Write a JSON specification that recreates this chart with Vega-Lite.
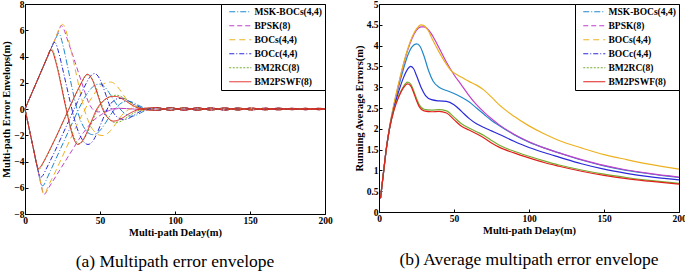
{
"$schema": "https://vega.github.io/schema/vega-lite/v6.json",
"background": "white",
"padding": {"left": 1, "top": -2, "right": 4, "bottom": 0},
"spacing": 20,
"resolve": {"scale": {"color": "independent", "strokeDash": "independent", "strokeWidth": "independent"}, "legend": {"color": "independent", "strokeDash": "independent", "strokeWidth": "independent"}},
"config": {
  "font": "Liberation Serif",
  "view": {"stroke": "black", "strokeWidth": 1},
  "axis": {"grid": false, "labelFont": "Liberation Serif", "labelFontWeight": "bold", "labelFontSize": 9.5, "labelColor": "black", "titleFont": "Liberation Serif", "titleFontWeight": "bold", "titleFontSize": 10.5, "titleColor": "black", "domainColor": "black", "tickColor": "black", "tickSize": -3, "labelPadding": 4, "labelOverlap": false, "labelFlush": false},
  "axisY": {"titlePadding": 2},
  "axisX": {"titlePadding": 3},
  "legend": {"orient": "top-right", "offset": 0, "strokeColor": "black", "fillColor": "white", "padding": 3, "cornerRadius": 0, "labelFont": "Liberation Serif", "labelFontWeight": "bold", "labelFontSize": 9.5, "labelColor": "black", "symbolType": "M-1,0H5.3", "symbolSize": 49, "symbolOffset": 4, "labelOffset": 17, "rowPadding": 3},
  "title": {"font": "Liberation Serif", "fontSize": 17.5, "fontWeight": "normal", "color": "black"}
},
"datasets": {
"env": [
{"s":"MSK","b":"u","d":0,"v":0},{"s":"MSK","b":"u","d":5,"v":1.33},{"s":"MSK","b":"u","d":10,"v":2.65},{"s":"MSK","b":"u","d":15,"v":3.98},{"s":"MSK","b":"u","d":19,"v":5.03},{"s":"MSK","b":"u","d":21,"v":5.5},{"s":"MSK","b":"u","d":22.3,"v":5.75},{"s":"MSK","b":"u","d":23.5,"v":5.6},{"s":"MSK","b":"u","d":25,"v":5.0},{"s":"MSK","b":"u","d":27,"v":4.0},{"s":"MSK","b":"u","d":29,"v":2.9},{"s":"MSK","b":"u","d":31,"v":1.8},{"s":"MSK","b":"u","d":33,"v":0.75},{"s":"MSK","b":"u","d":35,"v":-0.15},{"s":"MSK","b":"u","d":37,"v":-0.85},{"s":"MSK","b":"u","d":39,"v":-1.35},{"s":"MSK","b":"u","d":42,"v":-1.8},{"s":"MSK","b":"u","d":45,"v":-1.95},{"s":"MSK","b":"u","d":48,"v":-1.85},{"s":"MSK","b":"u","d":51,"v":-1.5},{"s":"MSK","b":"u","d":54,"v":-1.0},{"s":"MSK","b":"u","d":57,"v":-0.45},{"s":"MSK","b":"u","d":60,"v":0.0},{"s":"MSK","b":"u","d":63,"v":0.35},{"s":"MSK","b":"u","d":66,"v":0.55},{"s":"MSK","b":"u","d":69,"v":0.6},{"s":"MSK","b":"u","d":72,"v":0.5},{"s":"MSK","b":"u","d":75,"v":0.32},{"s":"MSK","b":"u","d":78,"v":0.15},{"s":"MSK","b":"u","d":82,"v":0.0},
{"s":"MSK","b":"u","d":88,"v":-0.1},{"s":"MSK","b":"u","d":97,"v":0.1},{"s":"MSK","b":"u","d":106,"v":-0.09},{"s":"MSK","b":"u","d":115,"v":0.09},{"s":"MSK","b":"u","d":124,"v":-0.08},{"s":"MSK","b":"u","d":133,"v":0.08},{"s":"MSK","b":"u","d":142,"v":-0.07},{"s":"MSK","b":"u","d":151,"v":0.07},{"s":"MSK","b":"u","d":160,"v":-0.06},{"s":"MSK","b":"u","d":169,"v":0.06},{"s":"MSK","b":"u","d":178,"v":-0.05},{"s":"MSK","b":"u","d":187,"v":0.05},{"s":"MSK","b":"u","d":196,"v":-0.05},{"s":"MSK","b":"u","d":200,"v":-0.01},
{"s":"MSK","b":"l","d":0,"v":0},{"s":"MSK","b":"l","d":3,"v":-1.62},{"s":"MSK","b":"l","d":6,"v":-3.24},{"s":"MSK","b":"l","d":9,"v":-4.86},{"s":"MSK","b":"l","d":10.5,"v":-5.6},{"s":"MSK","b":"l","d":11.5,"v":-5.85},{"s":"MSK","b":"l","d":12.5,"v":-5.8},{"s":"MSK","b":"l","d":14,"v":-5.45},{"s":"MSK","b":"l","d":17,"v":-4.7},{"s":"MSK","b":"l","d":20,"v":-3.95},{"s":"MSK","b":"l","d":23,"v":-3.2},{"s":"MSK","b":"l","d":26,"v":-2.45},{"s":"MSK","b":"l","d":29,"v":-1.7},{"s":"MSK","b":"l","d":32,"v":-0.95},{"s":"MSK","b":"l","d":35,"v":-0.2},{"s":"MSK","b":"l","d":38,"v":0.5},{"s":"MSK","b":"l","d":41,"v":1.1},{"s":"MSK","b":"l","d":44,"v":1.55},{"s":"MSK","b":"l","d":47,"v":1.85},{"s":"MSK","b":"l","d":50,"v":1.9},{"s":"MSK","b":"l","d":53,"v":1.7},{"s":"MSK","b":"l","d":56,"v":1.25},{"s":"MSK","b":"l","d":59,"v":0.7},{"s":"MSK","b":"l","d":62,"v":0.2},{"s":"MSK","b":"l","d":65,"v":-0.2},{"s":"MSK","b":"l","d":68,"v":-0.45},{"s":"MSK","b":"l","d":71,"v":-0.55},{"s":"MSK","b":"l","d":74,"v":-0.48},{"s":"MSK","b":"l","d":77,"v":-0.3},{"s":"MSK","b":"l","d":80,"v":-0.12},{"s":"MSK","b":"l","d":84,"v":0.0},
{"s":"MSK","b":"l","d":88,"v":0.1},{"s":"MSK","b":"l","d":97,"v":-0.1},{"s":"MSK","b":"l","d":106,"v":0.09},{"s":"MSK","b":"l","d":115,"v":-0.09},{"s":"MSK","b":"l","d":124,"v":0.08},{"s":"MSK","b":"l","d":133,"v":-0.08},{"s":"MSK","b":"l","d":142,"v":0.07},{"s":"MSK","b":"l","d":151,"v":-0.07},{"s":"MSK","b":"l","d":160,"v":0.06},{"s":"MSK","b":"l","d":169,"v":-0.06},{"s":"MSK","b":"l","d":178,"v":0.05},{"s":"MSK","b":"l","d":187,"v":-0.05},{"s":"MSK","b":"l","d":196,"v":0.05},{"s":"MSK","b":"l","d":200,"v":0.01},

{"s":"BPSK","b":"u","d":0,"v":0},{"s":"BPSK","b":"u","d":5,"v":1.33},{"s":"BPSK","b":"u","d":10,"v":2.65},{"s":"BPSK","b":"u","d":15,"v":3.98},{"s":"BPSK","b":"u","d":20,"v":5.3},{"s":"BPSK","b":"u","d":23,"v":6.1},{"s":"BPSK","b":"u","d":24,"v":6.35},{"s":"BPSK","b":"u","d":25,"v":6.3},{"s":"BPSK","b":"u","d":26,"v":6.05},{"s":"BPSK","b":"u","d":28,"v":5.38},{"s":"BPSK","b":"u","d":30,"v":4.7},{"s":"BPSK","b":"u","d":32,"v":4.05},{"s":"BPSK","b":"u","d":34,"v":3.35},{"s":"BPSK","b":"u","d":36,"v":2.65},{"s":"BPSK","b":"u","d":38,"v":1.95},{"s":"BPSK","b":"u","d":40,"v":1.25},{"s":"BPSK","b":"u","d":42,"v":0.6},{"s":"BPSK","b":"u","d":44,"v":0.15},{"s":"BPSK","b":"u","d":46,"v":-0.1},{"s":"BPSK","b":"u","d":49,"v":-0.22},{"s":"BPSK","b":"u","d":52,"v":-0.2},{"s":"BPSK","b":"u","d":55,"v":-0.1},{"s":"BPSK","b":"u","d":58,"v":0.0},{"s":"BPSK","b":"u","d":62,"v":0.05},{"s":"BPSK","b":"u","d":67,"v":0.04},{"s":"BPSK","b":"u","d":72,"v":0.0},{"s":"BPSK","b":"u","d":77,"v":-0.03},{"s":"BPSK","b":"u","d":82,"v":-0.03},
{"s":"BPSK","b":"u","d":88,"v":-0.1},{"s":"BPSK","b":"u","d":97,"v":0.1},{"s":"BPSK","b":"u","d":106,"v":-0.09},{"s":"BPSK","b":"u","d":115,"v":0.09},{"s":"BPSK","b":"u","d":124,"v":-0.08},{"s":"BPSK","b":"u","d":133,"v":0.08},{"s":"BPSK","b":"u","d":142,"v":-0.07},{"s":"BPSK","b":"u","d":151,"v":0.07},{"s":"BPSK","b":"u","d":160,"v":-0.06},{"s":"BPSK","b":"u","d":169,"v":0.06},{"s":"BPSK","b":"u","d":178,"v":-0.05},{"s":"BPSK","b":"u","d":187,"v":0.05},{"s":"BPSK","b":"u","d":196,"v":-0.05},{"s":"BPSK","b":"u","d":200,"v":-0.01},
{"s":"BPSK","b":"l","d":0,"v":0},{"s":"BPSK","b":"l","d":3,"v":-1.62},{"s":"BPSK","b":"l","d":6,"v":-3.24},{"s":"BPSK","b":"l","d":9,"v":-4.86},{"s":"BPSK","b":"l","d":11,"v":-5.9},{"s":"BPSK","b":"l","d":12.5,"v":-6.5},{"s":"BPSK","b":"l","d":13.5,"v":-6.45},{"s":"BPSK","b":"l","d":15,"v":-6.15},{"s":"BPSK","b":"l","d":18,"v":-5.6},{"s":"BPSK","b":"l","d":21,"v":-5.05},{"s":"BPSK","b":"l","d":24,"v":-4.5},{"s":"BPSK","b":"l","d":27,"v":-3.95},{"s":"BPSK","b":"l","d":30,"v":-3.4},{"s":"BPSK","b":"l","d":33,"v":-2.85},{"s":"BPSK","b":"l","d":36,"v":-2.3},{"s":"BPSK","b":"l","d":39,"v":-1.8},{"s":"BPSK","b":"l","d":42,"v":-1.35},{"s":"BPSK","b":"l","d":45,"v":-0.95},{"s":"BPSK","b":"l","d":48,"v":-0.65},{"s":"BPSK","b":"l","d":51,"v":-0.42},{"s":"BPSK","b":"l","d":54,"v":-0.22},{"s":"BPSK","b":"l","d":57,"v":-0.08},{"s":"BPSK","b":"l","d":60,"v":0.0},{"s":"BPSK","b":"l","d":64,"v":0.04},{"s":"BPSK","b":"l","d":70,"v":0.02},{"s":"BPSK","b":"l","d":76,"v":-0.02},{"s":"BPSK","b":"l","d":82,"v":-0.02},
{"s":"BPSK","b":"l","d":88,"v":0.1},{"s":"BPSK","b":"l","d":97,"v":-0.1},{"s":"BPSK","b":"l","d":106,"v":0.09},{"s":"BPSK","b":"l","d":115,"v":-0.09},{"s":"BPSK","b":"l","d":124,"v":0.08},{"s":"BPSK","b":"l","d":133,"v":-0.08},{"s":"BPSK","b":"l","d":142,"v":0.07},{"s":"BPSK","b":"l","d":151,"v":-0.07},{"s":"BPSK","b":"l","d":160,"v":0.06},{"s":"BPSK","b":"l","d":169,"v":-0.06},{"s":"BPSK","b":"l","d":178,"v":0.05},{"s":"BPSK","b":"l","d":187,"v":-0.05},{"s":"BPSK","b":"l","d":196,"v":0.05},{"s":"BPSK","b":"l","d":200,"v":0.01},

{"s":"BOCs","b":"u","d":0,"v":0},{"s":"BOCs","b":"u","d":5,"v":1.33},{"s":"BOCs","b":"u","d":10,"v":2.65},{"s":"BOCs","b":"u","d":15,"v":3.98},{"s":"BOCs","b":"u","d":20,"v":5.3},{"s":"BOCs","b":"u","d":24,"v":6.36},{"s":"BOCs","b":"u","d":25,"v":6.45},{"s":"BOCs","b":"u","d":26,"v":6.35},{"s":"BOCs","b":"u","d":28,"v":5.7},{"s":"BOCs","b":"u","d":30,"v":4.8},{"s":"BOCs","b":"u","d":32,"v":3.8},{"s":"BOCs","b":"u","d":34,"v":2.75},{"s":"BOCs","b":"u","d":36,"v":1.7},{"s":"BOCs","b":"u","d":38,"v":0.7},{"s":"BOCs","b":"u","d":40,"v":-0.2},{"s":"BOCs","b":"u","d":42,"v":-0.85},{"s":"BOCs","b":"u","d":44,"v":-1.35},{"s":"BOCs","b":"u","d":47,"v":-1.8},{"s":"BOCs","b":"u","d":50,"v":-2.0},{"s":"BOCs","b":"u","d":52,"v":-2.02},{"s":"BOCs","b":"u","d":54,"v":-1.95},{"s":"BOCs","b":"u","d":57,"v":-1.65},{"s":"BOCs","b":"u","d":60,"v":-1.2},{"s":"BOCs","b":"u","d":63,"v":-0.7},{"s":"BOCs","b":"u","d":66,"v":-0.3},{"s":"BOCs","b":"u","d":69,"v":-0.05},{"s":"BOCs","b":"u","d":72,"v":0.08},{"s":"BOCs","b":"u","d":76,"v":0.1},{"s":"BOCs","b":"u","d":80,"v":0.04},{"s":"BOCs","b":"u","d":84,"v":-0.04},
{"s":"BOCs","b":"u","d":88,"v":-0.1},{"s":"BOCs","b":"u","d":97,"v":0.1},{"s":"BOCs","b":"u","d":106,"v":-0.09},{"s":"BOCs","b":"u","d":115,"v":0.09},{"s":"BOCs","b":"u","d":124,"v":-0.08},{"s":"BOCs","b":"u","d":133,"v":0.08},{"s":"BOCs","b":"u","d":142,"v":-0.07},{"s":"BOCs","b":"u","d":151,"v":0.07},{"s":"BOCs","b":"u","d":160,"v":-0.06},{"s":"BOCs","b":"u","d":169,"v":0.06},{"s":"BOCs","b":"u","d":178,"v":-0.05},{"s":"BOCs","b":"u","d":187,"v":0.05},{"s":"BOCs","b":"u","d":196,"v":-0.05},{"s":"BOCs","b":"u","d":200,"v":-0.01},
{"s":"BOCs","b":"l","d":0,"v":0},{"s":"BOCs","b":"l","d":3,"v":-1.62},{"s":"BOCs","b":"l","d":6,"v":-3.24},{"s":"BOCs","b":"l","d":9,"v":-4.86},{"s":"BOCs","b":"l","d":11,"v":-5.9},{"s":"BOCs","b":"l","d":12.5,"v":-6.5},{"s":"BOCs","b":"l","d":13.5,"v":-6.45},{"s":"BOCs","b":"l","d":15,"v":-6.0},{"s":"BOCs","b":"l","d":18,"v":-5.3},{"s":"BOCs","b":"l","d":21,"v":-4.6},{"s":"BOCs","b":"l","d":24,"v":-3.85},{"s":"BOCs","b":"l","d":27,"v":-3.1},{"s":"BOCs","b":"l","d":30,"v":-2.35},{"s":"BOCs","b":"l","d":33,"v":-1.6},{"s":"BOCs","b":"l","d":36,"v":-0.9},{"s":"BOCs","b":"l","d":39,"v":-0.25},{"s":"BOCs","b":"l","d":42,"v":0.4},{"s":"BOCs","b":"l","d":45,"v":0.95},{"s":"BOCs","b":"l","d":48,"v":1.45},{"s":"BOCs","b":"l","d":51,"v":1.8},{"s":"BOCs","b":"l","d":54,"v":2.0},{"s":"BOCs","b":"l","d":57,"v":2.05},{"s":"BOCs","b":"l","d":60,"v":1.9},{"s":"BOCs","b":"l","d":63,"v":1.5},{"s":"BOCs","b":"l","d":66,"v":1.0},{"s":"BOCs","b":"l","d":69,"v":0.55},{"s":"BOCs","b":"l","d":72,"v":0.2},{"s":"BOCs","b":"l","d":75,"v":0.0},{"s":"BOCs","b":"l","d":78,"v":-0.1},{"s":"BOCs","b":"l","d":82,"v":-0.08},
{"s":"BOCs","b":"l","d":88,"v":0.1},{"s":"BOCs","b":"l","d":97,"v":-0.1},{"s":"BOCs","b":"l","d":106,"v":0.09},{"s":"BOCs","b":"l","d":115,"v":-0.09},{"s":"BOCs","b":"l","d":124,"v":0.08},{"s":"BOCs","b":"l","d":133,"v":-0.08},{"s":"BOCs","b":"l","d":142,"v":0.07},{"s":"BOCs","b":"l","d":151,"v":-0.07},{"s":"BOCs","b":"l","d":160,"v":0.06},{"s":"BOCs","b":"l","d":169,"v":-0.06},{"s":"BOCs","b":"l","d":178,"v":0.05},{"s":"BOCs","b":"l","d":187,"v":-0.05},{"s":"BOCs","b":"l","d":196,"v":0.05},{"s":"BOCs","b":"l","d":200,"v":0.01},

{"s":"BOCc","b":"u","d":0,"v":0},{"s":"BOCc","b":"u","d":5,"v":1.33},{"s":"BOCc","b":"u","d":10,"v":2.65},{"s":"BOCc","b":"u","d":15,"v":3.98},{"s":"BOCc","b":"u","d":18,"v":4.77},{"s":"BOCc","b":"u","d":19.5,"v":5.08},{"s":"BOCc","b":"u","d":20.5,"v":5.0},{"s":"BOCc","b":"u","d":22,"v":4.5},{"s":"BOCc","b":"u","d":24,"v":3.6},{"s":"BOCc","b":"u","d":26,"v":2.6},{"s":"BOCc","b":"u","d":28,"v":1.6},{"s":"BOCc","b":"u","d":30,"v":0.6},{"s":"BOCc","b":"u","d":32,"v":-0.35},{"s":"BOCc","b":"u","d":34,"v":-1.2},{"s":"BOCc","b":"u","d":36,"v":-1.85},{"s":"BOCc","b":"u","d":38,"v":-2.3},{"s":"BOCc","b":"u","d":40,"v":-2.6},{"s":"BOCc","b":"u","d":42,"v":-2.7},{"s":"BOCc","b":"u","d":44,"v":-2.6},{"s":"BOCc","b":"u","d":46,"v":-2.3},{"s":"BOCc","b":"u","d":48,"v":-1.85},{"s":"BOCc","b":"u","d":50,"v":-1.3},{"s":"BOCc","b":"u","d":52,"v":-0.75},{"s":"BOCc","b":"u","d":54,"v":-0.2},{"s":"BOCc","b":"u","d":56,"v":0.25},{"s":"BOCc","b":"u","d":59,"v":0.6},{"s":"BOCc","b":"u","d":62,"v":0.8},{"s":"BOCc","b":"u","d":65,"v":0.82},{"s":"BOCc","b":"u","d":68,"v":0.68},{"s":"BOCc","b":"u","d":71,"v":0.48},{"s":"BOCc","b":"u","d":74,"v":0.28},{"s":"BOCc","b":"u","d":77,"v":0.12},{"s":"BOCc","b":"u","d":80,"v":0.0},{"s":"BOCc","b":"u","d":84,"v":-0.06},
{"s":"BOCc","b":"u","d":88,"v":-0.1},{"s":"BOCc","b":"u","d":97,"v":0.1},{"s":"BOCc","b":"u","d":106,"v":-0.09},{"s":"BOCc","b":"u","d":115,"v":0.09},{"s":"BOCc","b":"u","d":124,"v":-0.08},{"s":"BOCc","b":"u","d":133,"v":0.08},{"s":"BOCc","b":"u","d":142,"v":-0.07},{"s":"BOCc","b":"u","d":151,"v":0.07},{"s":"BOCc","b":"u","d":160,"v":-0.06},{"s":"BOCc","b":"u","d":169,"v":0.06},{"s":"BOCc","b":"u","d":178,"v":-0.05},{"s":"BOCc","b":"u","d":187,"v":0.05},{"s":"BOCc","b":"u","d":196,"v":-0.05},{"s":"BOCc","b":"u","d":200,"v":-0.01},
{"s":"BOCc","b":"l","d":0,"v":0},{"s":"BOCc","b":"l","d":3,"v":-1.62},{"s":"BOCc","b":"l","d":6,"v":-3.24},{"s":"BOCc","b":"l","d":9,"v":-4.8},{"s":"BOCc","b":"l","d":10.5,"v":-5.2},{"s":"BOCc","b":"l","d":12,"v":-5.05},{"s":"BOCc","b":"l","d":14,"v":-4.6},{"s":"BOCc","b":"l","d":17,"v":-3.9},{"s":"BOCc","b":"l","d":20,"v":-3.2},{"s":"BOCc","b":"l","d":23,"v":-2.45},{"s":"BOCc","b":"l","d":26,"v":-1.7},{"s":"BOCc","b":"l","d":29,"v":-0.95},{"s":"BOCc","b":"l","d":32,"v":-0.2},{"s":"BOCc","b":"l","d":35,"v":0.55},{"s":"BOCc","b":"l","d":38,"v":1.3},{"s":"BOCc","b":"l","d":41,"v":2.0},{"s":"BOCc","b":"l","d":43,"v":2.4},{"s":"BOCc","b":"l","d":45,"v":2.65},{"s":"BOCc","b":"l","d":46.5,"v":2.7},{"s":"BOCc","b":"l","d":48,"v":2.6},{"s":"BOCc","b":"l","d":50,"v":2.25},{"s":"BOCc","b":"l","d":52,"v":1.7},{"s":"BOCc","b":"l","d":54,"v":1.05},{"s":"BOCc","b":"l","d":56,"v":0.4},{"s":"BOCc","b":"l","d":58,"v":-0.1},{"s":"BOCc","b":"l","d":60,"v":-0.45},{"s":"BOCc","b":"l","d":63,"v":-0.72},{"s":"BOCc","b":"l","d":66,"v":-0.8},{"s":"BOCc","b":"l","d":69,"v":-0.72},{"s":"BOCc","b":"l","d":72,"v":-0.52},{"s":"BOCc","b":"l","d":75,"v":-0.3},{"s":"BOCc","b":"l","d":78,"v":-0.12},{"s":"BOCc","b":"l","d":82,"v":0.02},
{"s":"BOCc","b":"l","d":88,"v":0.1},{"s":"BOCc","b":"l","d":97,"v":-0.1},{"s":"BOCc","b":"l","d":106,"v":0.09},{"s":"BOCc","b":"l","d":115,"v":-0.09},{"s":"BOCc","b":"l","d":124,"v":0.08},{"s":"BOCc","b":"l","d":133,"v":-0.08},{"s":"BOCc","b":"l","d":142,"v":0.07},{"s":"BOCc","b":"l","d":151,"v":-0.07},{"s":"BOCc","b":"l","d":160,"v":0.06},{"s":"BOCc","b":"l","d":169,"v":-0.06},{"s":"BOCc","b":"l","d":178,"v":0.05},{"s":"BOCc","b":"l","d":187,"v":-0.05},{"s":"BOCc","b":"l","d":196,"v":0.05},{"s":"BOCc","b":"l","d":200,"v":0.01},

{"s":"RC","b":"u","d":0,"v":0},{"s":"RC","b":"u","d":5,"v":1.33},{"s":"RC","b":"u","d":10,"v":2.65},{"s":"RC","b":"u","d":15,"v":3.98},{"s":"RC","b":"u","d":17,"v":4.5},{"s":"RC","b":"u","d":18,"v":4.55},{"s":"RC","b":"u","d":19,"v":4.35},{"s":"RC","b":"u","d":20,"v":3.95},{"s":"RC","b":"u","d":22,"v":3.05},{"s":"RC","b":"u","d":24,"v":2.0},{"s":"RC","b":"u","d":26,"v":0.9},{"s":"RC","b":"u","d":28,"v":-0.15},{"s":"RC","b":"u","d":30,"v":-1.15},{"s":"RC","b":"u","d":32,"v":-1.95},{"s":"RC","b":"u","d":34,"v":-2.45},{"s":"RC","b":"u","d":35.5,"v":-2.65},{"s":"RC","b":"u","d":37,"v":-2.62},{"s":"RC","b":"u","d":39,"v":-2.35},{"s":"RC","b":"u","d":41,"v":-1.95},{"s":"RC","b":"u","d":43,"v":-1.45},{"s":"RC","b":"u","d":45,"v":-0.9},{"s":"RC","b":"u","d":47,"v":-0.35},{"s":"RC","b":"u","d":49,"v":0.1},{"s":"RC","b":"u","d":52,"v":0.55},{"s":"RC","b":"u","d":55,"v":0.85},{"s":"RC","b":"u","d":58,"v":1.0},{"s":"RC","b":"u","d":61,"v":1.05},{"s":"RC","b":"u","d":64,"v":0.95},{"s":"RC","b":"u","d":67,"v":0.75},{"s":"RC","b":"u","d":70,"v":0.52},{"s":"RC","b":"u","d":73,"v":0.3},{"s":"RC","b":"u","d":76,"v":0.12},{"s":"RC","b":"u","d":79,"v":0.0},{"s":"RC","b":"u","d":83,"v":-0.07},
{"s":"RC","b":"u","d":88,"v":-0.1},{"s":"RC","b":"u","d":97,"v":0.1},{"s":"RC","b":"u","d":106,"v":-0.09},{"s":"RC","b":"u","d":115,"v":0.09},{"s":"RC","b":"u","d":124,"v":-0.08},{"s":"RC","b":"u","d":133,"v":0.08},{"s":"RC","b":"u","d":142,"v":-0.07},{"s":"RC","b":"u","d":151,"v":0.07},{"s":"RC","b":"u","d":160,"v":-0.06},{"s":"RC","b":"u","d":169,"v":0.06},{"s":"RC","b":"u","d":178,"v":-0.05},{"s":"RC","b":"u","d":187,"v":0.05},{"s":"RC","b":"u","d":196,"v":-0.05},{"s":"RC","b":"u","d":200,"v":-0.01},
{"s":"RC","b":"l","d":0,"v":0},{"s":"RC","b":"l","d":3,"v":-1.62},{"s":"RC","b":"l","d":6,"v":-3.24},{"s":"RC","b":"l","d":8,"v":-4.32},{"s":"RC","b":"l","d":9,"v":-4.6},{"s":"RC","b":"l","d":10,"v":-4.55},{"s":"RC","b":"l","d":12,"v":-4.15},{"s":"RC","b":"l","d":15,"v":-3.5},{"s":"RC","b":"l","d":18,"v":-2.8},{"s":"RC","b":"l","d":21,"v":-2.1},{"s":"RC","b":"l","d":24,"v":-1.35},{"s":"RC","b":"l","d":27,"v":-0.6},{"s":"RC","b":"l","d":30,"v":0.15},{"s":"RC","b":"l","d":33,"v":0.9},{"s":"RC","b":"l","d":36,"v":1.6},{"s":"RC","b":"l","d":38,"v":2.05},{"s":"RC","b":"l","d":40,"v":2.45},{"s":"RC","b":"l","d":41.5,"v":2.6},{"s":"RC","b":"l","d":43,"v":2.55},{"s":"RC","b":"l","d":45,"v":2.25},{"s":"RC","b":"l","d":47,"v":1.7},{"s":"RC","b":"l","d":49,"v":1.0},{"s":"RC","b":"l","d":51,"v":0.35},{"s":"RC","b":"l","d":53,"v":-0.2},{"s":"RC","b":"l","d":55,"v":-0.6},{"s":"RC","b":"l","d":57,"v":-0.88},{"s":"RC","b":"l","d":60,"v":-1.02},{"s":"RC","b":"l","d":63,"v":-0.98},{"s":"RC","b":"l","d":66,"v":-0.8},{"s":"RC","b":"l","d":69,"v":-0.56},{"s":"RC","b":"l","d":72,"v":-0.34},{"s":"RC","b":"l","d":75,"v":-0.15},{"s":"RC","b":"l","d":78,"v":-0.03},{"s":"RC","b":"l","d":82,"v":0.06},
{"s":"RC","b":"l","d":88,"v":0.1},{"s":"RC","b":"l","d":97,"v":-0.1},{"s":"RC","b":"l","d":106,"v":0.09},{"s":"RC","b":"l","d":115,"v":-0.09},{"s":"RC","b":"l","d":124,"v":0.08},{"s":"RC","b":"l","d":133,"v":-0.08},{"s":"RC","b":"l","d":142,"v":0.07},{"s":"RC","b":"l","d":151,"v":-0.07},{"s":"RC","b":"l","d":160,"v":0.06},{"s":"RC","b":"l","d":169,"v":-0.06},{"s":"RC","b":"l","d":178,"v":0.05},{"s":"RC","b":"l","d":187,"v":-0.05},{"s":"RC","b":"l","d":196,"v":0.05},{"s":"RC","b":"l","d":200,"v":0.01},

{"s":"PSWF","b":"u","d":0,"v":0},{"s":"PSWF","b":"u","d":5,"v":1.33},{"s":"PSWF","b":"u","d":10,"v":2.65},{"s":"PSWF","b":"u","d":15,"v":3.98},{"s":"PSWF","b":"u","d":17,"v":4.5},{"s":"PSWF","b":"u","d":18,"v":4.45},{"s":"PSWF","b":"u","d":19,"v":4.2},{"s":"PSWF","b":"u","d":20,"v":3.8},{"s":"PSWF","b":"u","d":22,"v":2.9},{"s":"PSWF","b":"u","d":24,"v":1.85},{"s":"PSWF","b":"u","d":26,"v":0.75},{"s":"PSWF","b":"u","d":28,"v":-0.3},{"s":"PSWF","b":"u","d":30,"v":-1.3},{"s":"PSWF","b":"u","d":32,"v":-2.1},{"s":"PSWF","b":"u","d":34,"v":-2.6},{"s":"PSWF","b":"u","d":35,"v":-2.7},{"s":"PSWF","b":"u","d":37,"v":-2.6},{"s":"PSWF","b":"u","d":39,"v":-2.3},{"s":"PSWF","b":"u","d":41,"v":-1.85},{"s":"PSWF","b":"u","d":43,"v":-1.3},{"s":"PSWF","b":"u","d":45,"v":-0.75},{"s":"PSWF","b":"u","d":47,"v":-0.2},{"s":"PSWF","b":"u","d":49,"v":0.2},{"s":"PSWF","b":"u","d":52,"v":0.6},{"s":"PSWF","b":"u","d":55,"v":0.85},{"s":"PSWF","b":"u","d":58,"v":0.95},{"s":"PSWF","b":"u","d":61,"v":0.95},{"s":"PSWF","b":"u","d":64,"v":0.82},{"s":"PSWF","b":"u","d":67,"v":0.62},{"s":"PSWF","b":"u","d":70,"v":0.4},{"s":"PSWF","b":"u","d":73,"v":0.2},{"s":"PSWF","b":"u","d":76,"v":0.05},{"s":"PSWF","b":"u","d":80,"v":-0.06},
{"s":"PSWF","b":"u","d":88,"v":-0.1},{"s":"PSWF","b":"u","d":97,"v":0.1},{"s":"PSWF","b":"u","d":106,"v":-0.09},{"s":"PSWF","b":"u","d":115,"v":0.09},{"s":"PSWF","b":"u","d":124,"v":-0.08},{"s":"PSWF","b":"u","d":133,"v":0.08},{"s":"PSWF","b":"u","d":142,"v":-0.07},{"s":"PSWF","b":"u","d":151,"v":0.07},{"s":"PSWF","b":"u","d":160,"v":-0.06},{"s":"PSWF","b":"u","d":169,"v":0.06},{"s":"PSWF","b":"u","d":178,"v":-0.05},{"s":"PSWF","b":"u","d":187,"v":0.05},{"s":"PSWF","b":"u","d":196,"v":-0.05},{"s":"PSWF","b":"u","d":200,"v":-0.01},
{"s":"PSWF","b":"l","d":0,"v":0},{"s":"PSWF","b":"l","d":3,"v":-1.62},{"s":"PSWF","b":"l","d":6,"v":-3.24},{"s":"PSWF","b":"l","d":8,"v":-4.3},{"s":"PSWF","b":"l","d":9,"v":-4.55},{"s":"PSWF","b":"l","d":10,"v":-4.45},{"s":"PSWF","b":"l","d":12,"v":-4.1},{"s":"PSWF","b":"l","d":15,"v":-3.45},{"s":"PSWF","b":"l","d":18,"v":-2.75},{"s":"PSWF","b":"l","d":21,"v":-2.05},{"s":"PSWF","b":"l","d":24,"v":-1.3},{"s":"PSWF","b":"l","d":27,"v":-0.55},{"s":"PSWF","b":"l","d":30,"v":0.2},{"s":"PSWF","b":"l","d":33,"v":0.95},{"s":"PSWF","b":"l","d":36,"v":1.65},{"s":"PSWF","b":"l","d":38,"v":2.1},{"s":"PSWF","b":"l","d":40,"v":2.5},{"s":"PSWF","b":"l","d":41.5,"v":2.65},{"s":"PSWF","b":"l","d":43,"v":2.55},{"s":"PSWF","b":"l","d":45,"v":2.2},{"s":"PSWF","b":"l","d":47,"v":1.6},{"s":"PSWF","b":"l","d":49,"v":0.9},{"s":"PSWF","b":"l","d":51,"v":0.2},{"s":"PSWF","b":"l","d":53,"v":-0.3},{"s":"PSWF","b":"l","d":55,"v":-0.65},{"s":"PSWF","b":"l","d":57,"v":-0.85},{"s":"PSWF","b":"l","d":59,"v":-0.92},{"s":"PSWF","b":"l","d":62,"v":-0.85},{"s":"PSWF","b":"l","d":65,"v":-0.68},{"s":"PSWF","b":"l","d":68,"v":-0.46},{"s":"PSWF","b":"l","d":71,"v":-0.26},{"s":"PSWF","b":"l","d":74,"v":-0.1},{"s":"PSWF","b":"l","d":77,"v":0.0},{"s":"PSWF","b":"l","d":81,"v":0.07},
{"s":"PSWF","b":"l","d":88,"v":0.1},{"s":"PSWF","b":"l","d":97,"v":-0.1},{"s":"PSWF","b":"l","d":106,"v":0.09},{"s":"PSWF","b":"l","d":115,"v":-0.09},{"s":"PSWF","b":"l","d":124,"v":0.08},{"s":"PSWF","b":"l","d":133,"v":-0.08},{"s":"PSWF","b":"l","d":142,"v":0.07},{"s":"PSWF","b":"l","d":151,"v":-0.07},{"s":"PSWF","b":"l","d":160,"v":0.06},{"s":"PSWF","b":"l","d":169,"v":-0.06},{"s":"PSWF","b":"l","d":178,"v":0.05},{"s":"PSWF","b":"l","d":187,"v":-0.05},{"s":"PSWF","b":"l","d":196,"v":0.05},{"s":"PSWF","b":"l","d":200,"v":0.01}
],
"avg": [
{"s":"MSK","d":1,"v":0.33},{"s":"MSK","d":3,"v":0.95},{"s":"MSK","d":5,"v":1.55},{"s":"MSK","d":7,"v":2.02},{"s":"MSK","d":10,"v":2.55},{"s":"MSK","d":13,"v":3.0},{"s":"MSK","d":16,"v":3.4},{"s":"MSK","d":19,"v":3.75},{"s":"MSK","d":22,"v":3.97},{"s":"MSK","d":25,"v":4.04},{"s":"MSK","d":27,"v":4.0},{"s":"MSK","d":30,"v":3.75},{"s":"MSK","d":33,"v":3.4},{"s":"MSK","d":36,"v":3.15},{"s":"MSK","d":40,"v":3.0},{"s":"MSK","d":45,"v":2.92},{"s":"MSK","d":50,"v":2.85},{"s":"MSK","d":55,"v":2.76},{"s":"MSK","d":60,"v":2.65},{"s":"MSK","d":65,"v":2.5},{"s":"MSK","d":70,"v":2.35},{"s":"MSK","d":75,"v":2.2},{"s":"MSK","d":80,"v":2.08},{"s":"MSK","d":90,"v":1.86},{"s":"MSK","d":100,"v":1.68},{"s":"MSK","d":110,"v":1.54},{"s":"MSK","d":120,"v":1.42},{"s":"MSK","d":135,"v":1.25},{"s":"MSK","d":150,"v":1.11},{"s":"MSK","d":165,"v":1.0},{"s":"MSK","d":180,"v":0.92},{"s":"MSK","d":200,"v":0.83},
{"s":"BPSK","d":1,"v":0.33},{"s":"BPSK","d":3,"v":0.95},{"s":"BPSK","d":5,"v":1.55},{"s":"BPSK","d":7,"v":2.03},{"s":"BPSK","d":10,"v":2.58},{"s":"BPSK","d":13,"v":3.05},{"s":"BPSK","d":16,"v":3.5},{"s":"BPSK","d":19,"v":3.88},{"s":"BPSK","d":22,"v":4.17},{"s":"BPSK","d":25,"v":4.37},{"s":"BPSK","d":28,"v":4.45},{"s":"BPSK","d":30,"v":4.45},{"s":"BPSK","d":33,"v":4.38},{"s":"BPSK","d":36,"v":4.22},{"s":"BPSK","d":40,"v":3.95},{"s":"BPSK","d":45,"v":3.6},{"s":"BPSK","d":50,"v":3.3},{"s":"BPSK","d":55,"v":3.05},{"s":"BPSK","d":60,"v":2.8},{"s":"BPSK","d":65,"v":2.58},{"s":"BPSK","d":70,"v":2.4},{"s":"BPSK","d":75,"v":2.24},{"s":"BPSK","d":80,"v":2.1},{"s":"BPSK","d":90,"v":1.87},{"s":"BPSK","d":100,"v":1.69},{"s":"BPSK","d":110,"v":1.54},{"s":"BPSK","d":120,"v":1.42},{"s":"BPSK","d":135,"v":1.26},{"s":"BPSK","d":150,"v":1.12},{"s":"BPSK","d":165,"v":1.01},{"s":"BPSK","d":180,"v":0.93},{"s":"BPSK","d":200,"v":0.84},
{"s":"BOCs","d":1,"v":0.33},{"s":"BOCs","d":3,"v":0.95},{"s":"BOCs","d":5,"v":1.55},{"s":"BOCs","d":7,"v":2.03},{"s":"BOCs","d":10,"v":2.6},{"s":"BOCs","d":13,"v":3.08},{"s":"BOCs","d":16,"v":3.52},{"s":"BOCs","d":19,"v":3.9},{"s":"BOCs","d":22,"v":4.2},{"s":"BOCs","d":25,"v":4.4},{"s":"BOCs","d":28,"v":4.5},{"s":"BOCs","d":30,"v":4.48},{"s":"BOCs","d":33,"v":4.35},{"s":"BOCs","d":36,"v":4.12},{"s":"BOCs","d":40,"v":3.85},{"s":"BOCs","d":45,"v":3.55},{"s":"BOCs","d":48,"v":3.4},{"s":"BOCs","d":52,"v":3.3},{"s":"BOCs","d":56,"v":3.22},{"s":"BOCs","d":60,"v":3.14},{"s":"BOCs","d":65,"v":3.05},{"s":"BOCs","d":70,"v":2.93},{"s":"BOCs","d":75,"v":2.76},{"s":"BOCs","d":80,"v":2.58},{"s":"BOCs","d":90,"v":2.3},{"s":"BOCs","d":100,"v":2.07},{"s":"BOCs","d":110,"v":1.88},{"s":"BOCs","d":120,"v":1.72},{"s":"BOCs","d":135,"v":1.54},{"s":"BOCs","d":150,"v":1.38},{"s":"BOCs","d":165,"v":1.26},{"s":"BOCs","d":180,"v":1.15},{"s":"BOCs","d":200,"v":1.03},
{"s":"BOCc","d":1,"v":0.33},{"s":"BOCc","d":3,"v":0.95},{"s":"BOCc","d":5,"v":1.55},{"s":"BOCc","d":7,"v":2.0},{"s":"BOCc","d":10,"v":2.5},{"s":"BOCc","d":13,"v":2.88},{"s":"BOCc","d":16,"v":3.2},{"s":"BOCc","d":19,"v":3.43},{"s":"BOCc","d":21,"v":3.5},{"s":"BOCc","d":23,"v":3.45},{"s":"BOCc","d":25,"v":3.28},{"s":"BOCc","d":28,"v":3.0},{"s":"BOCc","d":31,"v":2.8},{"s":"BOCc","d":35,"v":2.7},{"s":"BOCc","d":40,"v":2.67},{"s":"BOCc","d":45,"v":2.66},{"s":"BOCc","d":50,"v":2.58},{"s":"BOCc","d":55,"v":2.42},{"s":"BOCc","d":60,"v":2.25},{"s":"BOCc","d":65,"v":2.12},{"s":"BOCc","d":70,"v":2.03},{"s":"BOCc","d":75,"v":1.95},{"s":"BOCc","d":80,"v":1.87},{"s":"BOCc","d":90,"v":1.7},{"s":"BOCc","d":100,"v":1.55},{"s":"BOCc","d":110,"v":1.43},{"s":"BOCc","d":120,"v":1.32},{"s":"BOCc","d":135,"v":1.16},{"s":"BOCc","d":150,"v":1.03},{"s":"BOCc","d":165,"v":0.93},{"s":"BOCc","d":180,"v":0.85},{"s":"BOCc","d":200,"v":0.77},
{"s":"RC","d":1,"v":0.33},{"s":"RC","d":3,"v":0.95},{"s":"RC","d":5,"v":1.55},{"s":"RC","d":7,"v":2.0},{"s":"RC","d":10,"v":2.46},{"s":"RC","d":13,"v":2.78},{"s":"RC","d":16,"v":3.0},{"s":"RC","d":19,"v":3.12},{"s":"RC","d":21,"v":3.08},{"s":"RC","d":23,"v":2.93},{"s":"RC","d":25,"v":2.73},{"s":"RC","d":27,"v":2.57},{"s":"RC","d":30,"v":2.47},{"s":"RC","d":35,"v":2.45},{"s":"RC","d":40,"v":2.46},{"s":"RC","d":45,"v":2.43},{"s":"RC","d":50,"v":2.28},{"s":"RC","d":55,"v":2.12},{"s":"RC","d":60,"v":2.02},{"s":"RC","d":65,"v":1.93},{"s":"RC","d":70,"v":1.84},{"s":"RC","d":75,"v":1.72},{"s":"RC","d":80,"v":1.61},{"s":"RC","d":90,"v":1.46},{"s":"RC","d":100,"v":1.34},{"s":"RC","d":110,"v":1.23},{"s":"RC","d":120,"v":1.13},{"s":"RC","d":135,"v":1.01},{"s":"RC","d":150,"v":0.91},{"s":"RC","d":165,"v":0.83},{"s":"RC","d":180,"v":0.76},{"s":"RC","d":200,"v":0.69},
{"s":"PSWF","d":1,"v":0.33},{"s":"PSWF","d":3,"v":0.95},{"s":"PSWF","d":5,"v":1.55},{"s":"PSWF","d":7,"v":2.0},{"s":"PSWF","d":10,"v":2.45},{"s":"PSWF","d":13,"v":2.75},{"s":"PSWF","d":16,"v":2.97},{"s":"PSWF","d":19,"v":3.08},{"s":"PSWF","d":21,"v":3.04},{"s":"PSWF","d":23,"v":2.88},{"s":"PSWF","d":25,"v":2.68},{"s":"PSWF","d":27,"v":2.52},{"s":"PSWF","d":30,"v":2.43},{"s":"PSWF","d":35,"v":2.41},{"s":"PSWF","d":40,"v":2.42},{"s":"PSWF","d":45,"v":2.38},{"s":"PSWF","d":50,"v":2.22},{"s":"PSWF","d":55,"v":2.06},{"s":"PSWF","d":60,"v":1.97},{"s":"PSWF","d":65,"v":1.88},{"s":"PSWF","d":70,"v":1.78},{"s":"PSWF","d":75,"v":1.66},{"s":"PSWF","d":80,"v":1.56},{"s":"PSWF","d":90,"v":1.42},{"s":"PSWF","d":100,"v":1.3},{"s":"PSWF","d":110,"v":1.19},{"s":"PSWF","d":120,"v":1.1},{"s":"PSWF","d":135,"v":0.98},{"s":"PSWF","d":150,"v":0.88},{"s":"PSWF","d":165,"v":0.8},{"s":"PSWF","d":180,"v":0.74},{"s":"PSWF","d":200,"v":0.67}
]
},
"hconcat": [
{
  "width": 300, "height": 210,
  "data": {"name": "env"},
  "title": {"text": "(a) Multipath error envelope", "orient": "bottom", "anchor": "middle", "frame": "group", "offset": 15},
  "mark": {"type": "line", "interpolate": "monotone"},
  "encoding": {
    "x": {"field": "d", "type": "quantitative", "scale": {"domain": [0, 200], "nice": false}, "axis": {"title": "Multi-path Delay(m)", "values": [0, 50, 100, 150, 200]}},
    "y": {"field": "v", "type": "quantitative", "scale": {"domain": [-8, 8], "nice": false}, "axis": {"title": "Multi-path Error Envelops(m)", "values": [-8, -6, -4, -2, 0, 2, 4, 6, 8]}},
    "detail": {"field": "b"},
    "color": {"field": "s", "type": "nominal", "scale": {"domain": ["MSK", "BPSK", "BOCs", "BOCc", "RC", "PSWF"], "range": ["#1f88cc", "#c040c8", "#EDB120", "#2a2ad8", "#77AC30", "#e0201c"]}, "legend": {"title": null, "labelExpr": "{'MSK':'MSK-BOCs(4,4)','BPSK':'BPSK(8)','BOCs':'BOCs(4,4)','BOCc':'BOCc(4,4)','RC':'BM2RC(8)','PSWF':'BM2PSWF(8)'}[datum.label]"}},
    "strokeDash": {"field": "s", "type": "nominal", "scale": {"domain": ["MSK", "BPSK", "BOCs", "BOCc", "RC", "PSWF"], "range": [[6, 2, 1, 2], [5, 3], [6, 4], [5, 2, 1, 2], [2, 1.5], [1, 0]]}, "legend": {"title": null, "labelExpr": "{'MSK':'MSK-BOCs(4,4)','BPSK':'BPSK(8)','BOCs':'BOCs(4,4)','BOCc':'BOCc(4,4)','RC':'BM2RC(8)','PSWF':'BM2PSWF(8)'}[datum.label]"}},
    "strokeWidth": {"field": "s", "type": "nominal", "scale": {"domain": ["MSK", "BPSK", "BOCs", "BOCc", "RC", "PSWF"], "range": [1, 1, 1.2, 1, 3, 1.8]}, "legend": {"title": null, "labelExpr": "{'MSK':'MSK-BOCs(4,4)','BPSK':'BPSK(8)','BOCs':'BOCs(4,4)','BOCc':'BOCc(4,4)','RC':'BM2RC(8)','PSWF':'BM2PSWF(8)'}[datum.label]"}}
  }
},
{
  "width": 300, "height": 208,
  "data": {"name": "avg"},
  "title": {"text": "(b) Average multipath error envelope", "orient": "bottom", "anchor": "middle", "frame": "group", "offset": 15},
  "encoding": {
    "x": {"field": "d", "type": "quantitative", "scale": {"domain": [0, 200], "nice": false}, "axis": {"title": "Multi-path Delay(m)", "values": [0, 50, 100, 150, 200]}},
    "y": {"field": "v", "type": "quantitative", "scale": {"domain": [0, 5], "nice": false}, "axis": {"title": "Running Average Errors(m)", "values": [0, 0.5, 1, 1.5, 2, 2.5, 3, 3.5, 4, 4.5, 5], "format": "~g"}},
    "color": {"field": "s", "type": "nominal", "scale": {"domain": ["MSK", "BPSK", "BOCs", "BOCc", "RC", "PSWF"], "range": ["#1f88cc", "#c040c8", "#EDB120", "#2a2ad8", "#77AC30", "#e0201c"]}, "legend": {"title": null, "labelExpr": "{'MSK':'MSK-BOCs(4,4)','BPSK':'BPSK(8)','BOCs':'BOCs(4,4)','BOCc':'BOCc(4,4)','RC':'BM2RC(8)','PSWF':'BM2PSWF(8)'}[datum.label]"}},
    "strokeWidth": {"field": "s", "type": "nominal", "scale": {"domain": ["MSK", "BPSK", "BOCs", "BOCc", "RC", "PSWF"], "range": [1.2, 1.2, 1.3, 1.2, 2.6, 1.6]}, "legend": {"title": null, "labelExpr": "{'MSK':'MSK-BOCs(4,4)','BPSK':'BPSK(8)','BOCs':'BOCs(4,4)','BOCc':'BOCc(4,4)','RC':'BM2RC(8)','PSWF':'BM2PSWF(8)'}[datum.label]"}}
  },
  "layer": [
    {"mark": {"type": "line", "interpolate": "monotone"}},
    {"transform": [{"filter": {"field": "d", "equal": 1}}],
     "mark": {"type": "line"},
     "encoding": {"strokeDash": {"field": "s", "type": "nominal", "scale": {"domain": ["MSK", "BPSK", "BOCs", "BOCc", "RC", "PSWF"], "range": [[6, 2, 1, 2], [5, 3], [6, 4], [5, 2, 1, 2], [2, 1.5], [1, 0]]}, "legend": {"title": null, "labelExpr": "{'MSK':'MSK-BOCs(4,4)','BPSK':'BPSK(8)','BOCs':'BOCs(4,4)','BOCc':'BOCc(4,4)','RC':'BM2RC(8)','PSWF':'BM2PSWF(8)'}[datum.label]"}}}}
  ]
}
]
}
